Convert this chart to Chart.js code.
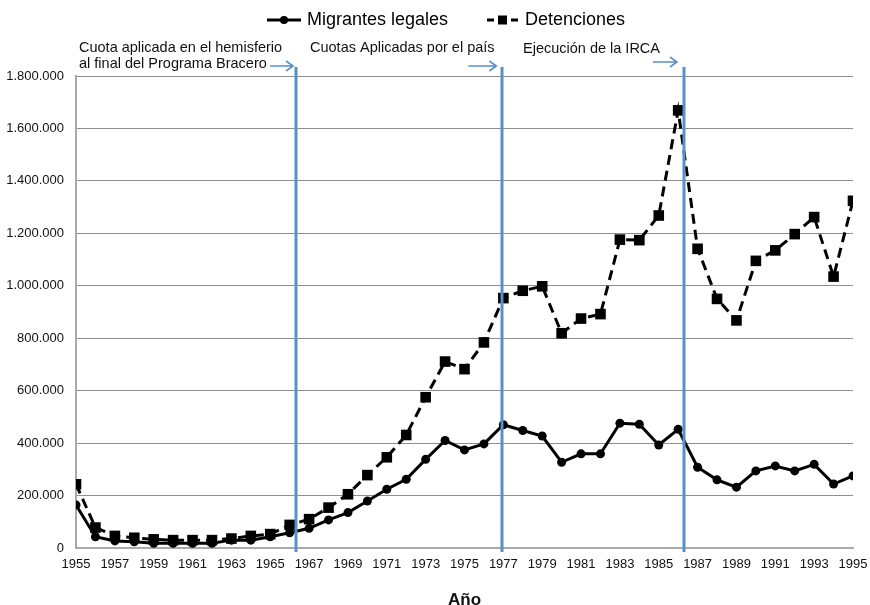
<!DOCTYPE html>
<html>
<head>
<meta charset="utf-8">
<script src="https://cdn.jsdelivr.net/npm/chart.js@4.4.1/dist/chart.umd.min.js"></script>
<style>
  html, body { margin: 0; padding: 0; background: #fff; }
  #wrap { width: 870px; height: 605px; }
</style>
</head>
<body>
<div id="wrap"><canvas id="chart"></canvas></div>
<script>
// Years on the x axis
const years = [1955, 1956, 1957, 1958, 1959, 1960, 1961, 1962, 1963, 1964,
    1965, 1966, 1967, 1968, 1969, 1970, 1971, 1972, 1973, 1974,
    1975, 1976, 1977, 1978, 1979, 1980, 1981, 1982, 1983, 1984,
    1985, 1986, 1987, 1988, 1989, 1990, 1991, 1992, 1993, 1994, 1995];

// Legal migrants
const legales = [164000, 43000, 27000, 24000, 18000, 18000, 18000, 18000, 30000, 30000,
    43000, 58000, 75000, 107000, 135000, 179000, 224000, 262000, 338000, 410000,
    374000, 397000, 470000, 448000, 427000, 327000, 359000, 359000, 476000, 472000,
    393000, 453000, 308000, 260000, 232000, 294000, 313000, 294000, 319000, 244000, 275000];

// Apprehensions
const detenciones = [243000, 78000, 46000, 39000, 33000, 30000, 30000, 30000, 36000, 46000,
    53000, 88000, 110000, 154000, 205000, 278000, 346000, 431000, 575000, 711000,
    682000, 784000, 953000, 981000, 998000, 819000, 875000, 892000, 1176000, 1174000,
    1268000, 1669000, 1141000, 950000, 868000, 1095000, 1135000, 1197000, 1262000, 1035000, 1324000];

const seriesNames = ['Migrantes legales', 'Detenciones'];

// Policy events (vertical lines) and their captions
const eventYears = [1966.33, 1976.95, 1986.3];
const eventLabels = [
    ['Cuota aplicada en el hemisferio', 'al final del Programa Bracero'],
    ['Cuotas Aplicadas por el país'],
    ['Ejecución de la IRCA']
];

const FONT = "'Liberation Sans', Arial, Helvetica, sans-serif";
const BLUE = '#5b8fc7';

const fmt = v => String(v).replace(/\B(?=(\d{3})+(?!\d))/g, '.');

// draws blue event lines, arrows, captions and the legend
const overlayPlugin = {
    id: 'overlay',
    afterDatasetsDraw(chart) {
        const { ctx, chartArea, scales: { x } } = chart;
        ctx.save();

        // vertical lines
        ctx.strokeStyle = BLUE;
        ctx.lineWidth = 3;
        eventYears.forEach(yr => {
            const px = Math.round(x.getPixelForValue(yr));
            ctx.beginPath();
            ctx.moveTo(px, chartArea.top - 9);
            ctx.lineTo(px, chartArea.bottom + 4);
            ctx.stroke();
        });

        // arrows pointing at each line
        const arrowLen = [23, 28, 24];
        const arrowGap = [3, 6, 7];
        const arrowY = [66, 66, 62];
        ctx.lineWidth = 1.6;
        eventYears.forEach((yr, i) => {
            const px = x.getPixelForValue(yr);
            const x1 = px - arrowGap[i];
            const x0 = x1 - arrowLen[i];
            const y = arrowY[i];
            ctx.beginPath();
            ctx.moveTo(x0, y);
            ctx.lineTo(x1, y);
            ctx.moveTo(x1 - 7, y - 5);
            ctx.lineTo(x1, y);
            ctx.lineTo(x1 - 7, y + 5);
            ctx.stroke();
        });

        // captions
        ctx.fillStyle = '#111';
        ctx.font = '14.5px ' + FONT;
        ctx.textBaseline = 'middle';
        ctx.textAlign = 'left';
        const capX = [79, 310, 523];
        const capY = [48, 48, 49];
        eventLabels.forEach((lines, i) => {
            lines.forEach((t, j) => ctx.fillText(t, capX[i], capY[i] + j * 16));
        });

        // legend
        const ly = 20;
        ctx.font = '18px ' + FONT;
        ctx.strokeStyle = '#000';
        ctx.fillStyle = '#000';
        ctx.lineWidth = 3;
        // solid line with circle
        ctx.beginPath();
        ctx.moveTo(267, ly);
        ctx.lineTo(301, ly);
        ctx.stroke();
        ctx.beginPath();
        ctx.arc(284, ly, 4, 0, Math.PI * 2);
        ctx.fill();
        ctx.fillText(seriesNames[0], 307, ly);
        // dashed line with square
        ctx.beginPath();
        ctx.moveTo(487, ly);
        ctx.lineTo(494, ly);
        ctx.moveTo(511, ly);
        ctx.lineTo(518, ly);
        ctx.stroke();
        ctx.fillRect(498, ly - 4.5, 9, 9);
        ctx.fillText(seriesNames[1], 525, ly);

        ctx.restore();
    }
};

const toPoints = arr => arr.map((v, i) => ({ x: years[i], y: v }));

new Chart(document.getElementById('chart'), {
    type: 'line',
    data: {
        datasets: [{
            label: seriesNames[0],
            data: toPoints(legales),
            borderColor: '#000',
            backgroundColor: '#000',
            borderWidth: 3,
            tension: 0,
            pointStyle: 'circle',
            pointRadius: 4.5,
            pointBorderWidth: 0
        }, {
            label: seriesNames[1],
            data: toPoints(detenciones),
            borderColor: '#000',
            backgroundColor: '#000',
            borderWidth: 3,
            borderDash: [10, 6],
            tension: 0,
            pointStyle: 'rect',
            pointRadius: 7.5,
            pointBorderWidth: 0
        }]
    },
    options: {
        responsive: true,
        maintainAspectRatio: false,
        animation: false,
        layout: { padding: { top: 76, right: 17, bottom: 0, left: 0 } },
        plugins: {
            legend: { display: false },
            tooltip: { enabled: false }
        },
        scales: {
            x: {
                type: 'linear',
                min: 1955,
                max: 1995,
                grid: { display: false, drawTicks: false },
                border: { color: '#aaa', width: 2 },
                ticks: {
                    stepSize: 2,
                    autoSkip: false,
                    maxRotation: 0,
                    padding: 9,
                    color: '#111',
                    font: { family: FONT, size: 13 },
                    callback: v => String(v)
                },
                title: {
                    display: true,
                    text: 'Año',
                    color: '#111',
                    font: { family: FONT, size: 17, weight: 'bold', lineHeight: 0.6 },
                    padding: { top: 15, bottom: 0 }
                },
                afterFit(scale) {
                    scale.height = 57;
                    scale.paddingRight = 0;
                }
            },
            y: {
                min: 0,
                max: 1800000,
                grid: { color: '#8e8e8e', lineWidth: 1, drawTicks: false },
                border: { color: '#aaa', width: 2 },
                ticks: {
                    stepSize: 200000,
                    padding: 12,
                    color: '#111',
                    font: { family: FONT, size: 13 },
                    callback: v => fmt(v)
                },
                afterFit(scale) { scale.width = 76; }
            }
        }
    },
    plugins: [overlayPlugin]
});
</script>
</body>
</html>
